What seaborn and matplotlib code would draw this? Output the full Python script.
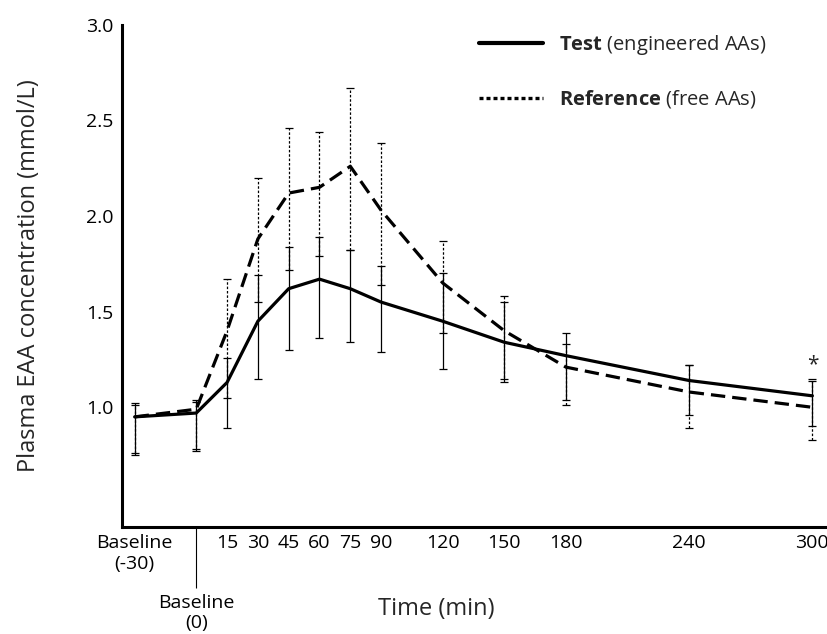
import numpy as np
import pandas as pd
import matplotlib.pyplot as plt
import seaborn as sns
from matplotlib.lines import Line2D

# valores (mmol/L)
time_min = [-30, 0, 15, 30, 45, 60, 75, 90, 120, 150, 180, 240, 300]
test_mean = [0.95, 0.97, 1.13, 1.45, 1.62, 1.67, 1.62, 1.55, 1.45, 1.34, 1.27, 1.14, 1.06]
test_low = [0.75, 0.78, 0.89, 1.15, 1.30, 1.36, 1.34, 1.29, 1.20, 1.15, 1.04, 0.96, 0.90]
test_high = [1.02, 1.04, 1.26, 1.69, 1.84, 1.89, 1.82, 1.74, 1.70, 1.55, 1.39, 1.22, 1.14]
ref_mean = [0.95, 0.99, 1.40, 1.88, 2.12, 2.15, 2.26, 2.03, 1.65, 1.40, 1.21, 1.08, 1.00]
ref_low = [0.76, 0.77, 1.05, 1.55, 1.72, 1.79, 1.82, 1.64, 1.39, 1.13, 1.01, 0.89, 0.83]
ref_high = [1.01, 1.03, 1.67, 2.20, 2.46, 2.44, 2.67, 2.38, 1.87, 1.58, 1.33, 1.22, 1.15]

xtick_pos = [-30, 15, 30, 45, 60, 75, 90, 120, 150, 180, 240, 300]
xtick_labels = ["Baseline\n(-30)", "15", "30", "45", "60", "75", "90",
                "120", "150", "180", "240", "300"]
ytick_pos = [1.0, 1.5, 2.0, 2.5, 3.0]

df = pd.DataFrame({"time": time_min * 2,
                   "conc": test_mean + ref_mean,
                   "grupo": ["Test"] * len(time_min) + ["Reference"] * len(time_min)})

sns.set_style("white")
plt.rcParams["font.family"] = ["Open Sans", "DejaVu Sans"]
plt.rcParams["mathtext.fontset"] = "custom"
plt.rcParams["mathtext.rm"] = "Open Sans"
plt.rcParams["mathtext.bf"] = "Open Sans:bold"

fig = plt.figure(figsize=(8.28, 6.34), dpi=100)
ax = fig.add_axes([0.147, 0.169, 0.849, 0.792])

# barras de error
t_mean = np.array(test_mean)
r_mean = np.array(ref_mean)
eb_t = ax.errorbar(time_min, t_mean,
                   yerr=[t_mean - np.array(test_low), np.array(test_high) - t_mean],
                   fmt="none", ecolor="black", elinewidth=0.9, capsize=3, capthick=0.9, zorder=2)
eb_r = ax.errorbar(time_min, r_mean,
                   yerr=[r_mean - np.array(ref_low), np.array(ref_high) - r_mean],
                   fmt="none", ecolor="black", elinewidth=0.9, capsize=3, capthick=0.9, zorder=2)
for lc in eb_r[2]:
    lc.set_linestyle((0, (2, 1.5)))

sns.lineplot(data=df, x="time", y="conc", hue="grupo", style="grupo",
             palette={"Test": "black", "Reference": "black"},
             dashes={"Test": "", "Reference": (4.5, 2.2)},
             linewidth=2.3, legend=False, ax=ax, zorder=3)

ax.text(300, 1.17, "*", ha="center", va="bottom", fontsize=15)

ax.set_xlim(-36.3, 306)
ax.set_ylim(0.375, 3.0)
ax.set_xticks(xtick_pos)
ax.set_xticklabels(xtick_labels)
ax.set_xticks([0], minor=True)
ax.set_xticklabels(["Baseline\n(0)"], minor=True)
ax.set_yticks(ytick_pos)
ax.set_yticklabels([f"{v:.1f}" for v in ytick_pos])
ax.tick_params(axis="both", which="major", length=0, labelsize=14, colors="black")
ax.tick_params(axis="x", which="major", pad=5)
ax.tick_params(axis="y", which="major", pad=6)
ax.tick_params(axis="x", which="minor", direction="out", length=44, width=0.8,
               pad=4, labelsize=14, colors="black", bottom=True)

for s in ["top", "right"]:
    ax.spines[s].set_visible(False)
for s in ["left", "bottom"]:
    ax.spines[s].set_linewidth(2.2)
    ax.spines[s].set_color("black")

ax.set_xlabel("Time (min)", fontsize=17)
ax.xaxis.set_label_coords(0.447, -0.14)
ax.set_ylabel("Plasma EAA concentration (mmol/L)", fontsize=17)
ax.yaxis.set_label_coords(-0.115, 0.5)

handles = [Line2D([], [], color="black", lw=3),
           Line2D([], [], color="black", lw=2.4, linestyle=(0, (1.2, 0.9)))]
labels = [r"$\bf{Test}$ (engineered AAs)", r"$\bf{Reference}$ (free AAs)"]
ax.legend(handles, labels, loc="upper left", bbox_to_anchor=(0.578, 0.948),
          bbox_transform=fig.transFigure, frameon=False, fontsize=14.5,
          handlelength=3.2, handletextpad=0.8, labelspacing=1.55,
          borderpad=0, borderaxespad=0)

plt.savefig("out.png", dpi=100)
